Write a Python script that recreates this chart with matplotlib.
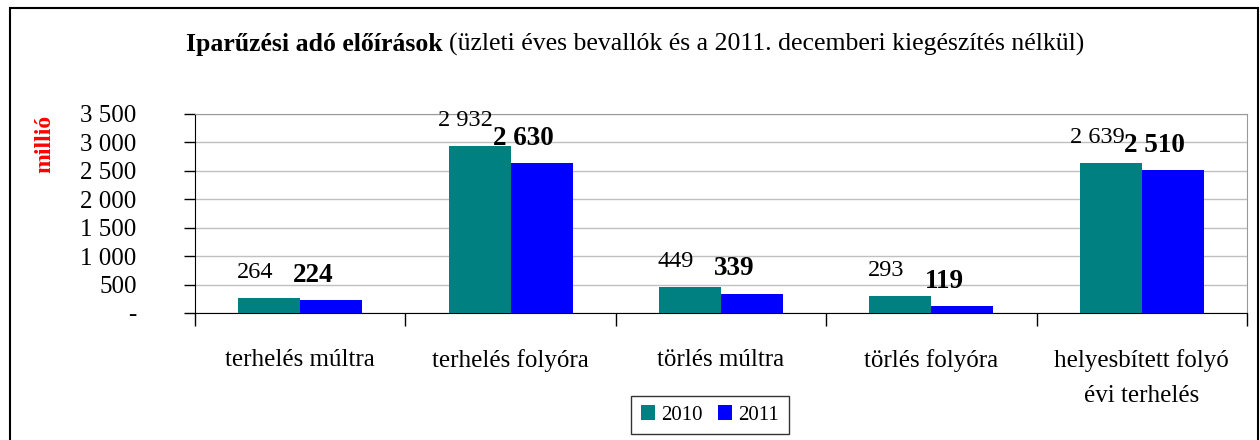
#!/usr/bin/env python3
import matplotlib
matplotlib.use("Agg")
import matplotlib.pyplot as plt
import numpy as np
from matplotlib.patches import Rectangle

# Data (million HUF)
categories = ["terhelés múltra", "terhelés folyóra", "törlés múltra",
              "törlés folyóra", "helyesbített folyó\névi terhelés"]
values_2010 = [264, 2932, 449, 293, 2639]
values_2011 = [224, 2630, 339, 119, 2510]
series_names = ["2010", "2011"]
y_ticks = [0, 500, 1000, 1500, 2000, 2500, 3000, 3500]

color_2010 = "#008080"
color_2011 = "#0000FF"

plt.rcParams['font.family'] = ['Liberation Serif', 'DejaVu Serif']


def fmt_num(v):
    if v == 0:
        return "-"
    return f"{v:,}".replace(",", " ")


fig = plt.figure(figsize=(12.6, 4.4), dpi=100)
ax = fig.add_axes([195 / 1260, 1 - 313 / 440, (1247 - 195) / 1260, (313 - 114) / 440])

x = np.arange(len(categories))
w = 0.295
bars1 = ax.bar(x - w / 2, values_2010, w, color=color_2010, label=series_names[0], zorder=3)
bars2 = ax.bar(x + w / 2, values_2011, w, color=color_2011, label=series_names[1], zorder=3)

# data labels (slightly shifted left, like the original)
for b, v in zip(bars1, values_2010):
    ax.annotate(fmt_num(v), (b.get_x() + b.get_width() / 2, v),
                xytext=(-10, 11), textcoords="offset points",
                ha="center", va="bottom", fontsize=17.5, zorder=5)
for b, v in zip(bars2, values_2011):
    ax.annotate(fmt_num(v), (b.get_x() + b.get_width() / 2, v),
                xytext=(-13, 9), textcoords="offset points",
                ha="center", va="bottom", fontsize=19.5, fontweight="bold", zorder=5)

ax.set_xlim(-0.5, len(categories) - 0.5)
ax.set_ylim(0, 3500)
ax.set_yticks(y_ticks)
ax.set_yticklabels([fmt_num(t) for t in y_ticks], fontsize=18)
ax.yaxis.grid(True, color="#c0c0c0", linewidth=1, zorder=0)
ax.tick_params(axis="y", direction="out", length=8, width=1, pad=34)

# category labels centered, tick marks at category boundaries
ax.set_xticks(x)
ax.set_xticklabels(categories, fontsize=18, linespacing=1.75)
ax.tick_params(axis="x", length=0, pad=26)
ax.set_xticks(np.arange(-0.5, len(categories) + 0.5, 1), minor=True)
ax.tick_params(axis="x", which="minor", direction="out", length=9, width=1)

ax.spines["left"].set_color("black")
ax.spines["bottom"].set_color("black")
ax.spines["top"].set_color("#999999")
ax.spines["right"].set_color("#999999")

ax.legend(loc="center", bbox_to_anchor=(710 / 1260, 1 - 415 / 440),
          bbox_transform=fig.transFigure, ncol=2, fontsize=15,
          frameon=True, fancybox=False, edgecolor="black",
          handlelength=0.7, handleheight=0.7, handletextpad=0.3,
          columnspacing=0.7, borderpad=0.45)

fig.text(45 / 1260, 1 - 144 / 440, "millió", rotation=90, color="red",
         fontsize=17, fontweight="bold", ha="center", va="center")

# title: bold part + regular part
t1 = fig.text(186 / 1260, 1 - 44 / 440, "Iparűzési adó előírások", fontsize=18.5,
              fontweight="bold", ha="left", va="center")
fig.canvas.draw()
bb = t1.get_window_extent()
fig.text(bb.x1 / 1260 + 6 / 1260, 1 - 44 / 440,
         "(üzleti éves bevallók és a 2011. decemberi kiegészítés nélkül)",
         fontsize=18.5, ha="left", va="center")

# outer chart border
fig.patches.append(Rectangle((10 / 1260, -0.05), (1258 - 10) / 1260, 1.05 - 8 / 440,
                             transform=fig.transFigure, fill=False,
                             edgecolor="black", linewidth=1.5))

fig.savefig("out.png", dpi=100)
